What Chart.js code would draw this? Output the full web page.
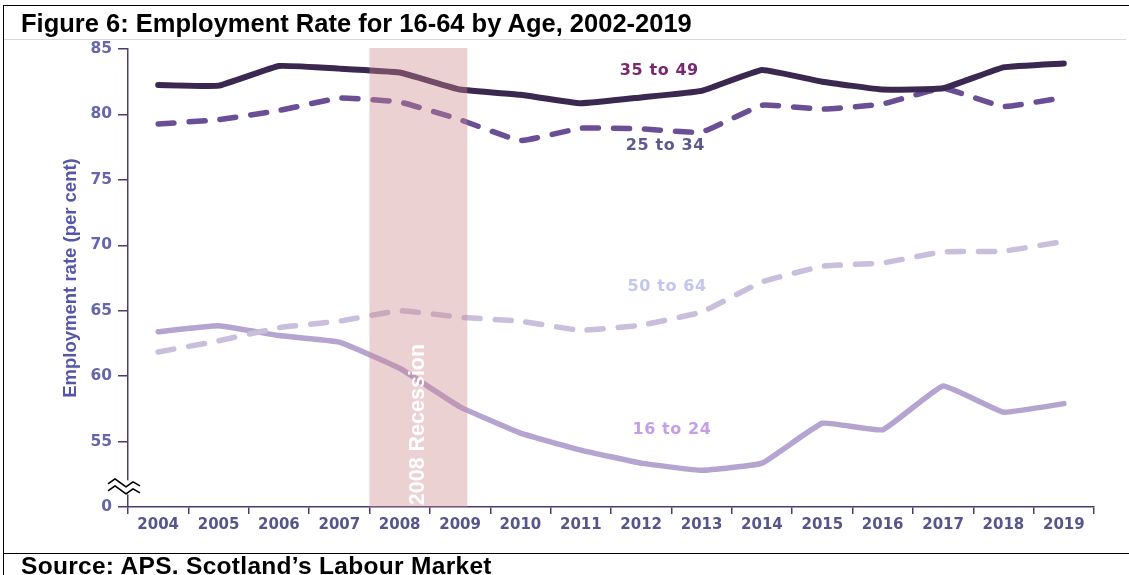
<!DOCTYPE html>
<html>
<head>
<meta charset="utf-8">
<script src="https://cdn.jsdelivr.net/npm/chart.js@4.4.1/dist/chart.umd.min.js"></script>
<style>
  html, body { margin: 0; padding: 0; background: #ffffff; }
  body { width: 1129px; height: 575px; position: relative; overflow: hidden; }
  #c { position: absolute; left: 0; top: 0; }
  .title { position: absolute; left: 21px; top: 8px; font-family: "Liberation Sans", Arial, sans-serif; font-weight: bold; font-size: 25.5px; color: #000; white-space: nowrap; line-height: 30px; }
  .source { position: absolute; left: 21px; top: 552px; font-family: "Liberation Sans", Arial, sans-serif; font-weight: bold; font-size: 24.5px; letter-spacing: 0.3px; color: #000; white-space: nowrap; line-height: 28px; }
  .line { position: absolute; background: #000; }
</style>
</head>
<body>
<canvas id="c" width="1129" height="575"></canvas>
<div class="line" style="left:3px; top:5px; width:1126px; height:1px;"></div>
<div class="line" style="left:3px; top:5px; width:1px; height:570px;"></div>
<div class="line" style="left:4px; top:39px; width:1122px; height:1px; background:#d8d8d8;"></div>
<div class="line" style="left:3px; top:553px; width:1126px; height:1px;"></div>
<div class="title">Figure 6: Employment Rate for 16-64 by Age, 2002-2019</div>
<div class="source">Source: APS. Scotland’s Labour Market</div>
<script>
const years = ['2004','2005','2006','2007','2008','2009','2010','2011','2012','2013','2014','2015','2016','2017','2018','2019'];
const age35to49 = [82.25, 82.2, 83.7, 83.5, 83.2, 81.9, 81.5, 80.85, 81.3, 81.8, 83.4, 82.5, 81.9, 82.0, 83.6, 83.9];
const age25to34 = [79.27, 79.6, 80.3, 81.25, 80.95, 79.6, 78.0, 78.95, 78.9, 78.65, 80.7, 80.4, 80.8, 82.0, 80.6, 81.3];
const age50to64 = [61.85, 62.7, 63.7, 64.2, 65.0, 64.5, 64.2, 63.5, 63.9, 64.9, 67.2, 68.4, 68.65, 69.5, 69.55, 70.3];
const age16to24 = [63.4, 63.85, 63.1, 62.6, 60.6, 57.65, 55.65, 54.35, 53.35, 52.8, 53.35, 56.4, 55.9, 59.25, 57.25, 57.9];
const yTicks = [50, 55, 60, 65, 70, 75, 80, 85];
const yTickLabels = ['0', '55', '60', '65', '70', '75', '80', '85'];
const recession = { label: '2008 Recession', start: 3.5, end: 5.12 };
const seriesLabels = [
  { text: '35 to 49', x: 8.3, y: 83.3, color: '#7b2670' },
  { text: '25 to 34', x: 8.4, y: 77.6, color: '#5a5a8e' },
  { text: '50 to 64', x: 8.43, y: 66.85, color: '#c3c6ee' },
  { text: '16 to 24', x: 8.51, y: 55.9, color: '#c49fe6' }
];

const axisColor = '#4b3c6c';

const overlayPlugin = {
  id: 'overlay',
  afterDatasetsDraw(chart) {
    const ctx = chart.ctx;
    const xs = chart.scales.x, ys = chart.scales.y;
    const area = chart.chartArea;
    // recession band
    const x1 = xs.getPixelForValue(recession.start);
    const x2 = xs.getPixelForValue(recession.end);
    ctx.save();
    ctx.fillStyle = 'rgba(205,135,140,0.38)';
    ctx.fillRect(x1, area.top - 1, x2 - x1, area.bottom - area.top + 1);
    ctx.translate((x1 + x2) / 2, ys.getPixelForValue(56.3));
    ctx.rotate(-Math.PI / 2);
    ctx.fillStyle = '#ffffff';
    ctx.font = 'bold 21.5px "Liberation Sans", Arial, sans-serif';
    ctx.textAlign = 'center';
    ctx.textBaseline = 'middle';
    ctx.fillText(recession.label, 0, 0);
    ctx.restore();
    // series labels
    ctx.save();
    ctx.font = 'bold 16px "DejaVu Sans", sans-serif';
    ctx.textAlign = 'center';
    ctx.textBaseline = 'middle';
    try { ctx.letterSpacing = '0.6px'; } catch (e) {}
    seriesLabels.forEach(l => {
      ctx.fillStyle = l.color;
      ctx.fillText(l.text, xs.getPixelForValue(l.x), ys.getPixelForValue(l.y));
    });
    ctx.restore();
    // axis break symbol
    ctx.save();
    const bx = area.left, by = ys.getPixelForValue(51.5);
    ctx.fillStyle = '#ffffff';
    ctx.fillRect(bx - 3, by - 7, 6, 14);
    ctx.strokeStyle = '#000000';
    ctx.lineWidth = 1.7;
    ctx.lineJoin = 'round';
    [-3.5, 3.5].forEach(off => {
      ctx.beginPath();
      ctx.moveTo(bx - 20, by + off);
      ctx.lineTo(bx - 13, by + off - 5);
      ctx.lineTo(bx - 2, by + off + 3);
      ctx.lineTo(bx + 5, by + off - 2);
      ctx.lineTo(bx + 12, by + off + 2);
      ctx.stroke();
    });
    ctx.restore();
  }
};

new Chart(document.getElementById('c'), {
  type: 'line',
  data: {
    labels: years,
    datasets: [
      { label: '35 to 49', data: age35to49, borderColor: '#3a2850', borderWidth: 6 },
      { label: '25 to 34', data: age25to34, borderColor: '#6a4e96', borderWidth: 5.5, borderDash: [16, 15] },
      { label: '50 to 64', data: age50to64, borderColor: '#c9bedc', borderWidth: 5.5, borderDash: [16, 15] },
      { label: '16 to 24', data: age16to24, borderColor: '#b5a4d0', borderWidth: 5.5 }
    ].map(d => Object.assign({ pointRadius: 0, tension: 0.1, borderCapStyle: 'round', borderJoinStyle: 'round', fill: false }, d))
  },
  options: {
    responsive: false,
    animation: false,
    events: [],
    layout: { padding: { left: 0, top: 49, right: 35, bottom: 28 } },
    plugins: { legend: { display: false }, tooltip: { enabled: false } },
    scales: {
      x: {
        type: 'category',
        offset: true,
        grid: { offset: true, drawOnChartArea: false, color: axisColor, tickLength: 7, lineWidth: 1.5 },
        border: { color: axisColor, width: 1.5 },
        ticks: { color: '#56568a', font: { family: '"DejaVu Sans", sans-serif', weight: 'bold', size: 15 }, padding: 2, maxRotation: 0, autoSkip: false },
        afterFit(s) { s.height = 40; }
      },
      y: {
        min: 50, max: 85,
        afterBuildTicks(s) { s.ticks = yTicks.map(v => ({ value: v })); },
        grid: { drawOnChartArea: false, color: axisColor, tickLength: 10, lineWidth: 1.5 },
        border: { color: axisColor, width: 1.5 },
        ticks: {
          color: '#6666aa',
          font: { family: '"DejaVu Sans", sans-serif', weight: 'bold', size: 15.5 },
          padding: 6,
          callback(v) { const i = yTicks.indexOf(v); return i >= 0 ? yTickLabels[i] : ''; }
        },
        title: { display: true, text: 'Employment rate (per cent)', color: '#5656a8', font: { family: '"Liberation Sans", Arial, sans-serif', weight: 'bold', size: 18.5 }, padding: { top: 60, bottom: 4 } },
        afterFit(s) { s.width = 128; }
      }
    }
  },
  plugins: [overlayPlugin]
});
</script>
</body>
</html>
